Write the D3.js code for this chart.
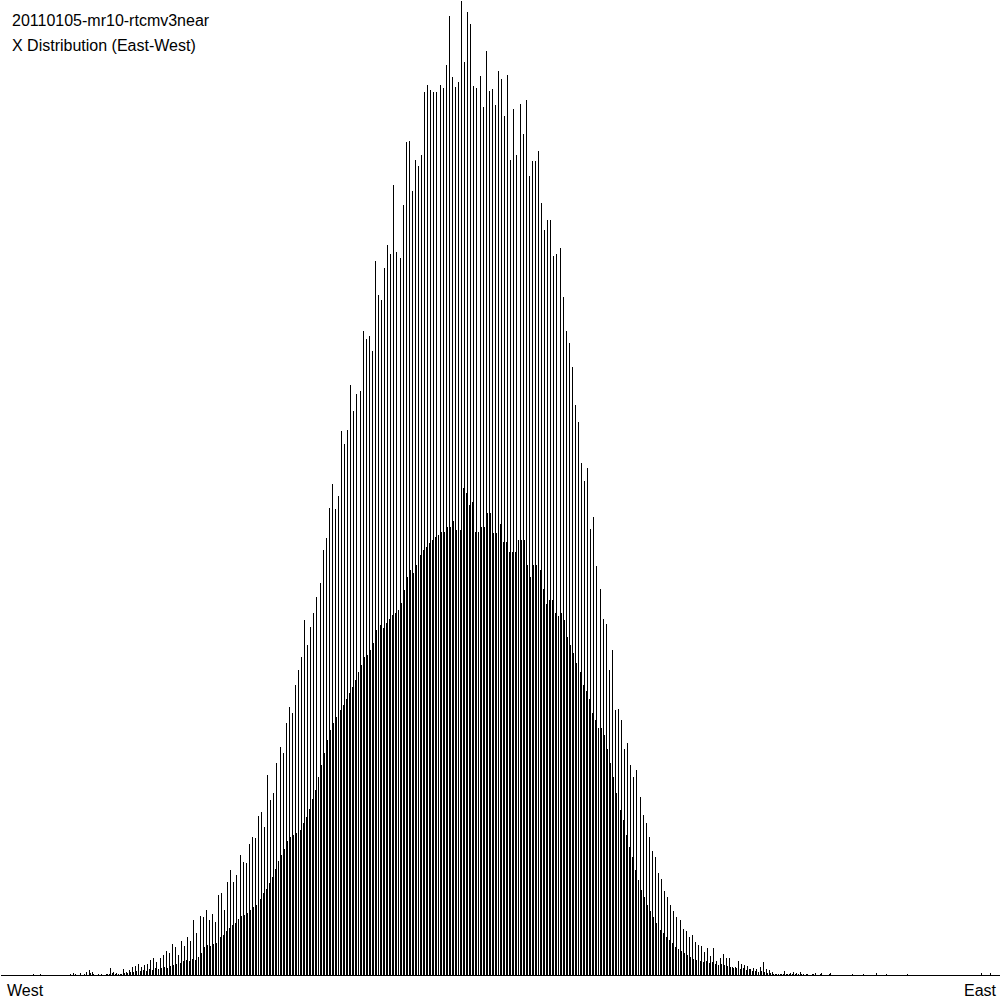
<!DOCTYPE html>
<html>
<head>
<meta charset="utf-8">
<script src="https://cdn.jsdelivr.net/npm/d3@7"></script>
<style>
  body { margin: 0; background: #fff; }
  svg { display: block; }
  text { font-family: "Liberation Sans", Arial, sans-serif; font-size: 16px; fill: #000; }
</style>
</head>
<body>
<svg id="chart" width="1000" height="1000"></svg>
<script>
// header lines and the two end labels of the x axis
var titleLines = ["20110105-mr10-rtcmv3near", "X Distribution (East-West)"];
var axisLabels = ["West", "East"];

// histogram bins alternate: even bins ("tall") and odd bins ("low")
var tallCounts = [
  0,0,0,0,0,0,0,0,0,0, 0,1,0,1,0,0,0,0,0,0, 0,0,0,1,2,0,2,0,3,5, 3,0,1,
  1,0,1,7,3,2,1,6,3,5, 8,9,11,8,10,11,15,17,13,17, 20,24,22,31,28,20,34,29,38,34, 55,42,59,
  58,65,55,61,53,80,82,65,93,105, 93,100,120,113,112,131,138,137,159,163, 148,200,175,182,
  212,228,222,252,268,262,290,305,318,355, 330,348,362,378,392,
  425,437,467,491,466,479,544,531,545,590, 564,581,584,644,636,639,624,714,680,675,
  707,730,721,790,723,717,770,833,834,784, 815,809,820,
  883,890,885,883,883,890,887,910,959,898, 888,893,974,913,963,951,889,887,899,868,
  924,884,886,870,904,896,859,900,815,866, 820,871,841,875,
  799,814,814,824,772,745,755,755,719,721, 727,678,644,632,608,570,553,512,494,507,
  446,458,409,386,356,351,305,325,265,266, 255,226,
  232,210,198,205,178,160,152,138,124,118, 102,96,84,78,70,64,58,55,46,44, 38,40,33,30,
  29,23,27,19,27,14,17,21,17,17, 8,8,14,11,10,9,6,7,6,8, 13,6,5,3,
  1,1,1,4,1,2,3,2,3,1, 1,0,1,2,0,2,0,0,2,0, 0,0,0,0,0,1,0,0,0,0,
  0,0,0,2,0,0,1,0,0,0, 0,0,0,1,0,0,0,0,0,0, 0,0,0,0,0,0,0,0,0,0,
  0,0,0,0,0,0,0,2,0,0, 2,0,0
];

var lowCounts = [
  0,0,0,0,0,0,0,0,0,0, 0,0,0,0,0,0,0,0,0,0, 0,0,0,0,1,0,0,1,0,2, 1,0,0,
  0,1,1,2,1,1,1,2,2,3, 3,4,4,
  5,4,6,5,7,6,7,8,7,9,
  10,11,12,14,15,14,16,15,18,22,
  28,30,29,31,32,38,40,44,47,50,
  52,56,59,60,62,65,68,70,76,82,
  86,92,98,106,114,120,126,134,138,140,
  142,145,152,158,166,176,185,
  198,210,222,235,245,252,258,265,
  270,276,282,288,295,303,310,318,320,325,
  332,345,350,347,352,356,360,362,365,372,
  385,398,405,402,410,420,425,428,432,435,
  438,440,443,443,448,448,454,445,445,487, 482,470,473,443,443,448,448,462,462,442,
  442,451,433,433,423,423,423,435,435,435, 410,398,410,410,405,386,371,375,375,362,
  359,362,355,338,330,322,312,303,290,284, 276,262,255,247,247,240,226,
  212,198,182,165,155,140,128,118,105,95, 85,78,70,64,58,52,45,42,38,35,
  32,28,26,24,22,20,18,16,15,14, 13,14,12,13,11,10,11,10,9,8,
  7,7,6,7,5,6,4,4,3,4, 3,2,2,1,
  1,1,1,1,1,1,1,1,1,0, 1,0,1,0,1,0,0,1,0,0, 0,0,0,0,0,0,0,0,1,0,
  0,0,0,0,0,0,0,0,0,0, 0,0,0,0,0,0,0,0,0,0, 0,0,0,0,0,0,0,0,0,0,
  0,0,0,0,0,0,0,0,0,0, 0,0,0
];

var bins = [];
tallCounts.forEach(function(c, k) {
  bins.push({bin: 2 * k, count: c});
  bins.push({bin: 2 * k + 1, count: lowCounts[k]});
});

var svg = d3.select("#chart");
var width = +svg.attr("width");
var baseY = 975;

var x = d3.scaleLinear().domain([0, 650]).range([0, width]);
var y = d3.scaleLinear().domain([0, 975]).range([baseY, 0]);

svg.append("g")
    .selectAll("line")
    .data(bins.filter(function(d) { return d.count > 0; }))
    .enter().append("line")
      .attr("x1", function(d) { return Math.floor(x(d.bin)) + 0.5; })
      .attr("x2", function(d) { return Math.floor(x(d.bin)) + 0.5; })
      .attr("y1", y(0))
      .attr("y2", function(d) { return y(d.count); })
      .attr("stroke", "#000")
      .attr("stroke-width", 1)
      .attr("shape-rendering", "crispEdges");

// baseline only, no ticks
var axis = svg.append("g")
    .attr("transform", "translate(0," + baseY + ")")
    .call(d3.axisBottom(x).tickValues([]).tickSizeOuter(0));
axis.select(".domain").attr("stroke", "#000").attr("shape-rendering", "crispEdges");

svg.append("text")
    .attr("x", 7)
    .attr("y", 996)
    .text(axisLabels[0]);

svg.append("text")
    .attr("x", 996)
    .attr("y", 996)
    .attr("text-anchor", "end")
    .text(axisLabels[1]);

svg.selectAll(".title")
  .data(titleLines)
  .enter().append("text")
    .attr("class", "title")
    .attr("x", 12)
    .attr("y", function(d, i) { return 26 + i * 25; })
    .text(function(d) { return d; });
</script>
</body>
</html>
